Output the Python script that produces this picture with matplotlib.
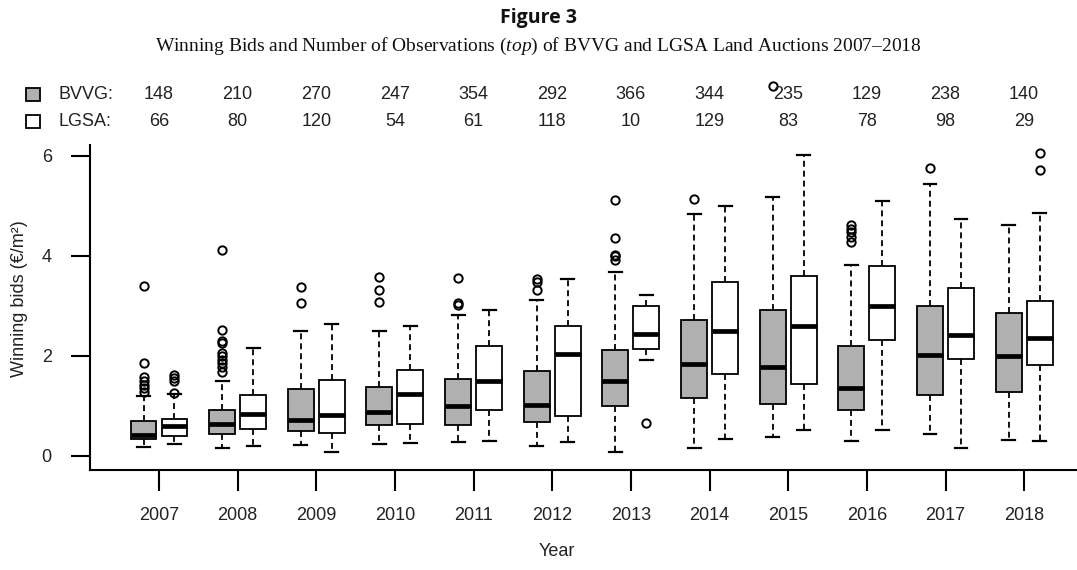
import matplotlib
matplotlib.use("Agg")
import matplotlib.pyplot as plt
import matplotlib.transforms as mtransforms
from matplotlib.patches import Rectangle

years = ["2007", "2008", "2009", "2010", "2011", "2012",
         "2013", "2014", "2015", "2016", "2017", "2018"]

# observations per year (top rows)
n_bvvg = [148, 210, 270, 247, 354, 292, 366, 344, 235, 129, 238, 140]
n_lgsa = [66, 80, 120, 54, 61, 118, 10, 129, 83, 78, 98, 29]

# BVVG box statistics (EUR/m2)
bvvg_lo = [0.18, 0.17, 0.22, 0.25, 0.29, 0.20, 0.09, 0.17, 0.39, 0.30, 0.45, 0.32]
bvvg_q1 = [0.34, 0.45, 0.50, 0.62, 0.62, 0.69, 1.01, 1.16, 1.05, 0.92, 1.23, 1.29]
bvvg_med = [0.42, 0.64, 0.73, 0.89, 1.01, 1.02, 1.51, 1.85, 1.79, 1.37, 2.03, 2.00]
bvvg_q3 = [0.70, 0.92, 1.34, 1.39, 1.54, 1.71, 2.12, 2.72, 2.92, 2.21, 3.01, 2.87]
bvvg_hi = [1.20, 1.50, 2.51, 2.50, 2.82, 3.12, 3.69, 4.84, 5.19, 3.83, 5.44, 4.61]
bvvg_out = [
    [1.28, 1.36, 1.43, 1.51, 1.58, 1.86, 3.40],
    [1.69, 1.78, 1.86, 1.93, 2.00, 2.06, 2.27, 2.30, 2.52, 4.12],
    [3.06, 3.39],
    [3.08, 3.33, 3.59],
    [3.02, 3.07, 3.57],
    [3.32, 3.49, 3.55],
    [3.92, 4.00, 4.02, 4.37, 5.12],
    [5.14],
    [7.40],
    [4.29, 4.39, 4.49, 4.55, 4.62],
    [5.77],
    [],
]

# LGSA box statistics (EUR/m2)
lgsa_lo = [0.24, 0.20, 0.09, 0.27, 0.30, 0.29, 1.92, 0.35, 0.53, 0.52, 0.17, 0.30]
lgsa_q1 = [0.41, 0.54, 0.47, 0.64, 0.92, 0.80, 2.15, 1.65, 1.45, 2.33, 1.95, 1.82]
lgsa_med = [0.60, 0.84, 0.83, 1.25, 1.51, 2.04, 2.45, 2.51, 2.61, 3.01, 2.43, 2.37]
lgsa_q3 = [0.74, 1.22, 1.52, 1.73, 2.20, 2.61, 3.01, 3.49, 3.61, 3.81, 3.37, 3.10]
lgsa_hi = [1.24, 2.16, 2.64, 2.61, 2.92, 3.55, 3.22, 5.01, 6.02, 5.10, 4.73, 4.87]
lgsa_out = [
    [1.26, 1.51, 1.57, 1.63],
    [], [], [], [], [],
    [0.67],
    [], [], [], [],
    [5.73, 6.07],
]

def make_stats(lo, q1, med, q3, hi, out):
    return [dict(whislo=a, q1=b, med=c, q3=d, whishi=e, fliers=f)
            for a, b, c, d, e, f in zip(lo, q1, med, q3, hi, out)]

txt = "#222222"
plt.rcParams["font.family"] = ["Liberation Sans", "DejaVu Sans"]
plt.rcParams["mathtext.fontset"] = "custom"
plt.rcParams["mathtext.it"] = "Liberation Serif:italic"
plt.rcParams["mathtext.rm"] = "Liberation Serif"

fig = plt.figure(figsize=(10.77, 5.70), dpi=100)
ax = fig.add_axes([90 / 1077, 1 - 470 / 570, 987 / 1077, 325 / 570])

x = list(range(len(years)))
off = 0.197
common = dict(
    widths=0.33, patch_artist=True, showfliers=True,
    whiskerprops=dict(color="black", linewidth=1.3, linestyle=(0, (3.3, 2.2))),
    capprops=dict(color="black", linewidth=1.6),
    medianprops=dict(color="black", linewidth=3.4, solid_capstyle="butt"),
    flierprops=dict(marker="o", markerfacecolor="none", markeredgecolor="black",
                    markersize=6, markeredgewidth=1.4),
)
b1 = ax.bxp(make_stats(bvvg_lo, bvvg_q1, bvvg_med, bvvg_q3, bvvg_hi, bvvg_out),
            positions=[i - off for i in x],
            boxprops=dict(facecolor="#b0b0b0", edgecolor="black", linewidth=1.3),
            **common)
b2 = ax.bxp(make_stats(lgsa_lo, lgsa_q1, lgsa_med, lgsa_q3, lgsa_hi, lgsa_out),
            positions=[i + off for i in x],
            boxprops=dict(facecolor="white", edgecolor="black", linewidth=1.3),
            **common)
for fl in b1["fliers"] + b2["fliers"]:
    fl.set_clip_on(False)

ax.set_xlim((90 - 159) / 78.65, (1077 - 159) / 78.65)
ax.set_ylim(-0.28, 6.22)
ax.set_xticks(x)
ax.set_xticklabels(years)
ax.set_yticks([0, 2, 4, 6])
ax.set_yticklabels(["0", "2", "4", "6"])
for s in ["top", "right"]:
    ax.spines[s].set_visible(False)
for s in ["left", "bottom"]:
    ax.spines[s].set_linewidth(1.5)
ax.tick_params(axis="y", direction="out", length=13.5, width=1.5, pad=14,
               labelsize=13, labelcolor=txt)
ax.tick_params(axis="x", direction="out", length=15, width=1.5, pad=12,
               labelsize=13, labelcolor=txt)

fig.text(19.5 / 1077, 1 - 299 / 570, "Winning bids (€/m²)", rotation=90,
         ha="center", va="center", fontsize=13, color=txt)
fig.text(557 / 1077, 1 - 551 / 570, "Year", ha="center", va="center",
         fontsize=13, color=txt)

# titles
fig.text(0.5, 1 - 18 / 570, "Figure 3", ha="center", va="center",
         fontsize=14, fontweight="bold", family="Open Sans", color="#111111")
fig.text(0.5, 1 - 46 / 570,
         r"Winning Bids and Number of Observations ($\it{top}$) of BVVG and LGSA Land Auctions 2007–2018",
         ha="center", va="center", fontsize=14, family="Liberation Serif", color="#111111")

# counts rows
trans = mtransforms.blended_transform_factory(ax.transData, fig.transFigure)
rows = [("BVVG:", n_bvvg, "#b0b0b0", 94), ("LGSA:", n_lgsa, "white", 121)]
for label, counts, fc, py in rows:
    fig.add_artist(Rectangle((26 / 1077, 1 - (py + 6.5) / 570), 14 / 1077, 13 / 570,
                             transform=fig.transFigure, facecolor=fc,
                             edgecolor="black", linewidth=1.3))
    fig.text(58 / 1077, 1 - py / 570, label, ha="left", va="center",
             fontsize=13, color=txt)
    for i, n in zip(x, counts):
        ax.text(i, 1 - py / 570, str(n), transform=trans, ha="center",
                va="center", fontsize=13, color=txt)

fig.savefig("out.png", dpi=100)
